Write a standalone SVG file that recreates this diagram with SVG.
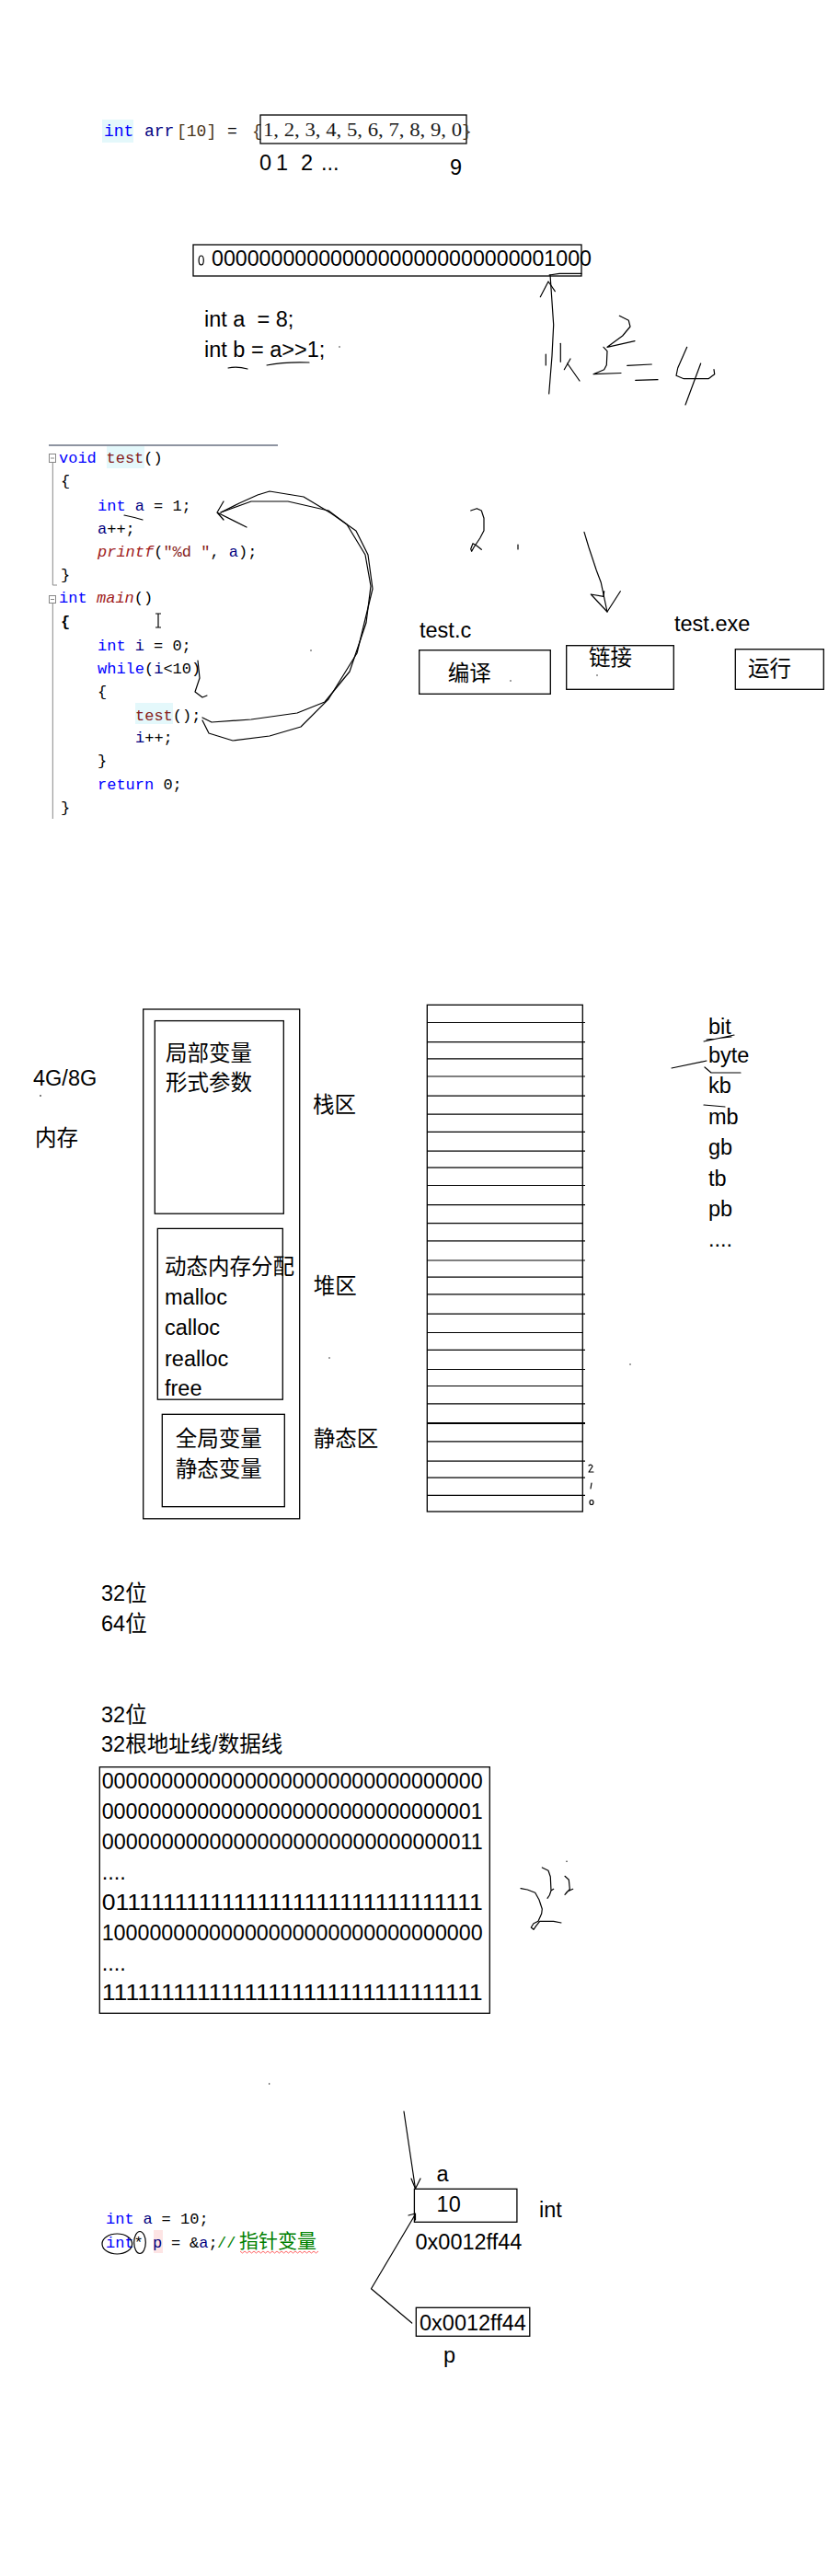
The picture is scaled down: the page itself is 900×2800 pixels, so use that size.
<svg xmlns="http://www.w3.org/2000/svg" width="900" height="2800" viewBox="0 0 900 2800">
<style>
.code{font-family:"Liberation Mono",monospace;font-size:17px;fill:#000}
.c18{font-size:18px}
.kw{fill:#0000ff}
.fn{fill:#862020}
.fi{fill:#a02020;font-style:italic}
.var{fill:#000080}
.br{fill:#4a3418}
.cm{fill:#008000}
.sans{font-family:"Liberation Sans","Noto Sans CJK SC",sans-serif;font-size:23.5px;fill:#000}
.cjk{font-family:"Liberation Sans","Noto Sans CJK SC",sans-serif;font-size:23.5px;fill:#000}
.box{fill:none;stroke:#000;stroke-width:1.3}
.hand{fill:none;stroke:#000;stroke-width:1.2;stroke-linecap:round;stroke-linejoin:round}
.grid{stroke:#000;stroke-width:1.2}
.fold{fill:none;stroke:#888;stroke-width:1}
</style>
<rect width="900" height="2800" fill="#fff"/>

<!-- Section 1: array -->
<g id="arr-decl">
  <rect x="111" y="130" width="34" height="25" fill="#e4f8fb"/>
  <text class="code c18" y="148"><tspan class="kw" x="113">int</tspan><tspan class="var" x="157">arr</tspan><tspan class="br" x="192">[10]</tspan><tspan x="247">=</tspan><tspan class="br" x="274">{</tspan></text>
  <rect class="box" x="283" y="125" width="224" height="31"/>
  <text x="286" y="148" font-family="Liberation Serif, serif" font-size="20" fill="#1a1a1a" textLength="216" lengthAdjust="spacingAndGlyphs">1, 2, 3, 4, 5, 6, 7, 8, 9, 0</text>
  <text class="code c18 br" x="502" y="148">}</text>
</g>
<g id="arr-index">
  <text class="sans" font-size="18.5" y="185"><tspan x="282">0</tspan><tspan x="300">1</tspan><tspan x="327">2</tspan><tspan x="349">...</tspan></text>
  <text class="sans" font-size="18.5" x="489" y="190">9</text>
</g>

<!-- Section 2: shift -->
<g id="bits">
  <rect class="box" x="210" y="266" width="422" height="34"/>
  <ellipse class="hand" cx="218.7" cy="283" rx="2.6" ry="5"/>
  <text class="sans" font-size="23.4" x="230" y="288.5" textLength="413" lengthAdjust="spacingAndGlyphs">00000000000000000000000000001000</text>
  <path class="hand" d="M597,299 L608,297.3 L632,297.3"/>
</g>
<g id="shift-code">
  <text class="sans" x="222" y="355" xml:space="preserve">int a  = 8;</text>
  <text class="sans" x="222" y="388">int b = a&gt;&gt;1;</text>
  <path class="hand" d="M248,400 Q258,398 269,401"/>
  <path class="hand" d="M290,397 Q310,393 336,394"/>
  <circle cx="369" cy="377" r="0.7" fill="#000"/>
</g>
<g id="shift-notes">
  <path class="hand" d="M598,298.5 L601.7,353 L600,386.7 L596.7,428"/>
  <path class="hand" d="M587.3,322.7 L596,306 L603.3,316.7"/>
  <path class="hand" d="M593.3,385 L593.3,397"/>
  <path class="hand" d="M609.3,373.3 L609.3,393.3"/>
  <path class="hand" d="M620,390 L613.3,401.7 M616.7,395 L630,414"/>
  <path class="hand" d="M673.3,343.3 L683.3,348.3 L685,355 L676.7,365 L660,377.3 L690,370.7"/>
  <path class="hand" d="M656,377.3 L660,381.7 L659.3,396.7 L656.7,401.7 L645,406.7 L675,405.5"/>
  <path class="hand" d="M681.7,397.3 L708.3,396 M690.7,413.3 L715,412.7"/>
  <path class="hand" d="M746.7,377.3 L736.7,400 L735,408.3 L743.3,411.7 L770,411.7 L776.7,406.7 L776,401.7"/>
  <path class="hand" d="M761.7,395 L745,440"/>
</g>

<!-- Section 3: code -->
<g id="code-block">
  <line x1="53" y1="484" x2="302" y2="484" stroke="#1f2a44" stroke-width="1"/>
  <rect class="fold" x="53.5" y="493.5" width="7" height="9"/>
  <line class="fold" x1="55" y1="498" x2="59" y2="498"/>
  <polyline class="fold" points="57.3,503 57.3,636 62,636"/>
  <rect class="fold" x="53.5" y="647.5" width="7" height="8"/>
  <line class="fold" x1="55" y1="651.5" x2="59" y2="651.5"/>
  <line class="fold" x1="57.3" y1="656" x2="57.3" y2="890"/>
  <rect x="116" y="485" width="41" height="24" fill="#e4f8fb"/>
  <rect x="147" y="764" width="41" height="23" fill="#e4f8fb"/>
  <text class="code" y="503"><tspan class="kw" x="64">void</tspan><tspan class="fn" x="115.5">test</tspan><tspan>()</tspan></text>
  <text class="code" x="66" y="528">{</text>
  <text class="code" y="555"><tspan class="kw" x="106">int</tspan><tspan class="var" x="146.8">a</tspan><tspan x="167">= 1;</tspan></text>
  <text class="code" y="580"><tspan class="var" x="106">a</tspan><tspan>++;</tspan></text>
  <text class="code" y="605"><tspan class="fi" x="106">printf</tspan><tspan>(</tspan><tspan class="fn">"%d "</tspan><tspan>, </tspan><tspan class="var">a</tspan><tspan>);</tspan></text>
  <text class="code" x="66" y="630">}</text>
  <text class="code" y="655"><tspan class="kw" x="64">int</tspan><tspan class="fi" x="105">main</tspan><tspan>()</tspan></text>
  <text class="code" x="66" y="681" font-weight="bold">{</text>
  <text class="code" y="707"><tspan class="kw" x="106">int</tspan><tspan class="var" x="146.8">i</tspan><tspan x="167">= 0;</tspan></text>
  <text class="code" y="732"><tspan class="kw" x="106">while</tspan><tspan>(</tspan><tspan class="var">i</tspan><tspan>&lt;10)</tspan></text>
  <text class="code" x="106" y="757">{</text>
  <text class="code" y="783"><tspan class="fn" x="147">test</tspan><tspan>();</tspan></text>
  <text class="code" y="807"><tspan class="var" x="147">i</tspan><tspan>++;</tspan></text>
  <text class="code" x="106" y="832">}</text>
  <text class="code" y="858"><tspan class="kw" x="106">return</tspan><tspan> 0;</tspan></text>
  <text class="code" x="66" y="883">}</text>
  <path d="M169,667 L175,667 M172,667 L172,682 M169,682 L175,682" stroke="#000" stroke-width="1.2" fill="none"/>
</g>
<g id="code-notes">
  <path class="hand" d="M135,560 Q145,562 155,565"/>
  <path class="hand" d="M220,780 L230,785 L273,782 L323,775 L353,763 L380,730 L398,677 L403,637 L397,603 L377,570 L357,555 L313,545 L273,545 L240,557"/>
  <path class="hand" d="M220,783 L227,797 L253,805 L293,800 L327,790 L357,760 L388,710 L405,640 L400,603 L387,577 L360,558 L330,540 L293,534 L280,538 L260,547 L240,557"/>
  <path class="hand" d="M243,545 L236,557 L243,565 M236,557 L268,573"/>
  <path class="hand" d="M215,718 L217,737 L212,752 L220,758 L225,756"/>
  <circle cx="338" cy="707" r="0.7" fill="#000"/>
</g>

<!-- Section 4: build -->
<g id="build-notes">
  <path class="hand" d="M511.7,555 L518.3,552.7 L523.3,555 L526,563.3 L526,576.7 L521.7,585 L515,595 L512.7,599.3 L511.7,596.7 L514,590.7 L518.3,593.3 L523.3,597.3"/>
  <path class="hand" d="M563,592 L563,597"/>
  <path class="hand" d="M635,578.3 L640,595 L645,610 L648.3,620 L653.3,633.3 L660,665"/>
  <path class="hand" d="M642.3,646 L660,665 L674.3,642.7 M642.3,646 L656,648.3 L656.7,642.7"/>
</g>
<g id="test-c"><text class="sans" x="456" y="693">test.c</text></g>
<g id="compile">
  <rect class="box" x="455.7" y="706.7" width="142.6" height="47.6"/>
  <text class="cjk" x="486.7" y="740">编译</text>
  <circle cx="555" cy="740" r="0.7" fill="#000"/>
</g>
<g id="link">
  <rect class="box" x="615.7" y="701.7" width="116.6" height="47.6"/>
  <text class="cjk" x="640" y="723">链接</text>
  <circle cx="649" cy="734" r="0.7" fill="#000"/>
</g>
<g id="test-exe"><text class="sans" x="733" y="686">test.exe</text></g>
<g id="run">
  <rect class="box" x="799.3" y="705.7" width="96" height="43.6"/>
  <text class="cjk" x="813" y="735">运行</text>
</g>

<!-- Section 5: memory -->
<g id="memory-label">
  <text class="sans" x="36" y="1179.6">4G/8G</text>
  <line x1="43" y1="1191" x2="45" y2="1191" stroke="#000" stroke-width="1"/>
  <text class="cjk" x="38" y="1245">内存</text>
</g>
<g id="memory-map">
  <rect class="box" x="155.7" y="1097" width="170" height="553.8"/>
</g>
<g id="stack">
  <rect class="box" x="168.3" y="1109.6" width="140" height="209.6"/>
  <text class="cjk" x="180" y="1152.7">局部变量</text>
  <text class="cjk" x="180" y="1185.4">形式参数</text>
  <text class="cjk" x="340" y="1208.5">栈区</text>
</g>
<g id="heap">
  <rect class="box" x="171.3" y="1335.4" width="136" height="185.8"/>
  <text class="cjk" x="179" y="1384.6">动态内存分配</text>
  <text class="sans" x="179" y="1418">malloc</text>
  <text class="sans" x="179" y="1450.8">calloc</text>
  <text class="sans" x="179" y="1484.6">realloc</text>
  <text class="sans" x="179" y="1517">free</text>
  <text class="cjk" x="340.7" y="1405.8">堆区</text>
  <circle cx="358" cy="1476" r="0.7" fill="#000"/>
</g>
<g id="static">
  <rect class="box" x="176.3" y="1537.3" width="133" height="100.4"/>
  <text class="cjk" x="190.7" y="1572">全局变量</text>
  <text class="cjk" x="190.7" y="1604.6">静态变量</text>
  <text class="cjk" x="340.7" y="1572">静态区</text>
</g>
<g id="memory-cells">
  <rect class="box" x="464.3" y="1092.3" width="169" height="550.7"/>
  <g class="grid">
    <line x1="464.3" x2="636" y1="1111.5" y2="1111.5"/>
    <line x1="464.3" x2="636" y1="1132.7" y2="1132.7"/>
    <line x1="464.3" x2="633.3" y1="1150.8" y2="1150.8"/>
    <line x1="464.3" x2="636" y1="1170" y2="1170"/>
    <line x1="464.3" x2="636" y1="1191.2" y2="1191.2"/>
    <line x1="464.3" x2="633.3" y1="1211.2" y2="1211.2"/>
    <line x1="464.3" x2="636" y1="1230.4" y2="1230.4"/>
    <line x1="464.3" x2="636" y1="1251.2" y2="1251.2"/>
    <line x1="464.3" x2="633.3" y1="1269.2" y2="1269.2"/>
    <line x1="464.3" x2="636" y1="1288.5" y2="1288.5"/>
    <line x1="464.3" x2="636" y1="1309.6" y2="1309.6"/>
    <line x1="464.3" x2="633.3" y1="1329.6" y2="1329.6"/>
    <line x1="464.3" x2="636" y1="1348.8" y2="1348.8"/>
    <line x1="464.3" x2="636" y1="1370" y2="1370"/>
    <line x1="464.3" x2="633.3" y1="1388.1" y2="1388.1"/>
    <line x1="464.3" x2="636" y1="1406.9" y2="1406.9"/>
    <line x1="464.3" x2="636" y1="1428.1" y2="1428.1"/>
    <line x1="464.3" x2="633.3" y1="1448.5" y2="1448.5"/>
    <line x1="464.3" x2="636" y1="1467.3" y2="1467.3"/>
    <line x1="464.3" x2="636" y1="1488.5" y2="1488.5"/>
    <line x1="464.3" x2="633.3" y1="1506.5" y2="1506.5"/>
    <line x1="464.3" x2="636" y1="1525.8" y2="1525.8"/>
    <line x1="464.3" x2="636" y1="1546.9" y2="1546.9" stroke-width="2"/>
    <line x1="464.3" x2="633.3" y1="1566.9" y2="1566.9"/>
    <line x1="464.3" x2="636" y1="1588.1" y2="1588.1"/>
    <line x1="464.3" x2="636" y1="1606.2" y2="1606.2"/>
    <line x1="464.3" x2="636" y1="1625.4" y2="1625.4"/>
  </g>
  <path class="hand" stroke-width="0.9" d="M640,1593 Q643,1591 644,1594 L640,1600 L645,1600"/>
  <path class="hand" stroke-width="0.9" d="M643,1612 L642,1618"/>
  <ellipse class="hand" stroke-width="0.9" cx="643" cy="1633" rx="2" ry="2.5"/>
</g>
<g id="units">
  <text class="sans" x="770" y="1123.8">bit</text>
  <text class="sans" x="770" y="1155.4">byte</text>
  <text class="sans" x="770" y="1188">kb</text>
  <text class="sans" x="770" y="1222">mb</text>
  <text class="sans" x="770" y="1255">gb</text>
  <text class="sans" x="770" y="1288.5">tb</text>
  <text class="sans" x="770" y="1322">pb</text>
  <text class="sans" x="770" y="1354.6">....</text>
  <path class="hand" d="M765,1132 L798,1125 M768,1130 L795,1127"/>
  <path class="hand" d="M730,1161 L768,1153"/>
  <path class="hand" d="M766,1160 L773,1166 L805,1166"/>
  <path class="hand" d="M765,1201 L788,1203"/>
  <circle cx="685" cy="1483" r="0.7" fill="#000"/>
</g>

<!-- Section 6: address lines -->
<g id="bits-label">
  <text class="cjk" x="110" y="1740">32位</text>
  <text class="cjk" x="110" y="1772.7">64位</text>
  <text class="cjk" x="110" y="1871.7">32位</text>
  <text class="cjk" x="110" y="1904">32根地址线/数据线</text>
</g>
<g id="address-table">
  <rect class="box" x="108.3" y="1920.7" width="424" height="267.6"/>
  <text class="sans" font-size="23.3" x="110.7" y="1944.3" textLength="414" lengthAdjust="spacingAndGlyphs">00000000000000000000000000000000</text>
  <text class="sans" font-size="23.3" x="110.7" y="1977.3" textLength="414" lengthAdjust="spacingAndGlyphs">00000000000000000000000000000001</text>
  <text class="sans" font-size="23.3" x="110.7" y="2010" textLength="414" lengthAdjust="spacingAndGlyphs">00000000000000000000000000000011</text>
  <text class="sans" font-size="23.3" x="110.7" y="2043.3">....</text>
  <text class="sans" font-size="23.3" x="110.7" y="2076" textLength="414" lengthAdjust="spacingAndGlyphs">01111111111111111111111111111111</text>
  <text class="sans" font-size="23.3" x="110.7" y="2109" textLength="414" lengthAdjust="spacingAndGlyphs">10000000000000000000000000000000</text>
  <text class="sans" font-size="23.3" x="110.7" y="2141.7">....</text>
  <text class="sans" font-size="23.3" x="110.7" y="2174.3" textLength="414" lengthAdjust="spacingAndGlyphs">11111111111111111111111111111111</text>
</g>
<g id="address-note">
  <path class="hand" d="M566,2052.7 L573.3,2054 L581.7,2057.3 L586,2065 L589.3,2075 L588.7,2080 L585,2088.3 L580,2090.7 L577.3,2095 L580,2097.3 L582.7,2093.3 L586.7,2088.3 L601.7,2088.3 L610,2090"/>
  <path class="hand" d="M589.3,2030 L596,2033.3 L598.3,2040 L599,2055 L597.3,2060 L595,2063.3 M599,2055 L601.7,2053.3"/>
  <path class="hand" d="M614,2039.3 L618.3,2043.3 L619.3,2053.3 L615,2058.3 L614,2059.3 L616.7,2056 L622.7,2053.3"/>
  <circle cx="616" cy="2023.3" r="0.7" fill="#000"/>
</g>

<!-- Section 7: pointer -->
<g id="pointer-code">
  <circle cx="292.7" cy="2265" r="0.7" fill="#000"/>
  <rect x="167" y="2424" width="10" height="25" fill="#fde4e4"/>
  <text class="code" y="2417.3"><tspan class="kw" x="115">int</tspan><tspan class="var" x="155.5">a</tspan><tspan x="175.6">=</tspan><tspan x="196">10;</tspan></text>
  <text class="code" y="2442.7"><tspan class="kw" x="115">int</tspan><tspan x="145.5">*</tspan><tspan class="var" x="166">p</tspan><tspan x="186">=</tspan><tspan x="206">&amp;</tspan><tspan class="var">a</tspan><tspan>;</tspan><tspan class="cm" x="236">//</tspan><tspan class="cm" x="260" font-family="Noto Sans CJK SC, sans-serif" font-size="21">指针变量</tspan></text>
  <path d="M261,2447 l2.5,2 l2.5,-2 l2.5,2 l2.5,-2 l2.5,2 l2.5,-2 l2.5,2 l2.5,-2 l2.5,2 l2.5,-2 l2.5,2 l2.5,-2 l2.5,2 l2.5,-2 l2.5,2 l2.5,-2 l2.5,2 l2.5,-2 l2.5,2 l2.5,-2 l2.5,2 l2.5,-2 l2.5,2 l2.5,-2 l2.5,2 l2.5,-2 l2.5,2 l2.5,-2 l2.5,2 l2.5,-2 l2.5,2 l2.5,-2 l2.5,2 l2.5,-2" fill="none" stroke="#ff5050" stroke-width="0.9"/>
  <ellipse class="hand" cx="127.3" cy="2439" rx="16.3" ry="11"/>
  <ellipse class="hand" cx="152" cy="2437.5" rx="6.3" ry="12"/>
</g>
<g id="var-a">
  <text class="sans" x="474.6" y="2371">a</text>
  <rect class="box" x="450.4" y="2379.3" width="111.5" height="36"/>
  <text class="sans" x="474.6" y="2404">10</text>
  <text class="sans" x="586" y="2410">int</text>
  <text class="sans" x="451.5" y="2445">0x0012ff44</text>
</g>
<g id="var-p">
  <rect class="box" x="452.3" y="2508.3" width="123.5" height="31"/>
  <text class="sans" x="456" y="2533.3">0x0012ff44</text>
  <text class="sans" x="482" y="2568">p</text>
</g>
<g id="connectors">
  <path class="hand" d="M439,2295 L451.5,2379"/>
  <path class="hand" d="M447,2368 L451.5,2379 L457,2368"/>
  <path class="hand" d="M447.7,2525 L403.5,2487.7 L451.5,2406.7"/>
  <path class="hand" d="M444,2408 L451.5,2406 L451.5,2413"/>
</g>
</svg>
